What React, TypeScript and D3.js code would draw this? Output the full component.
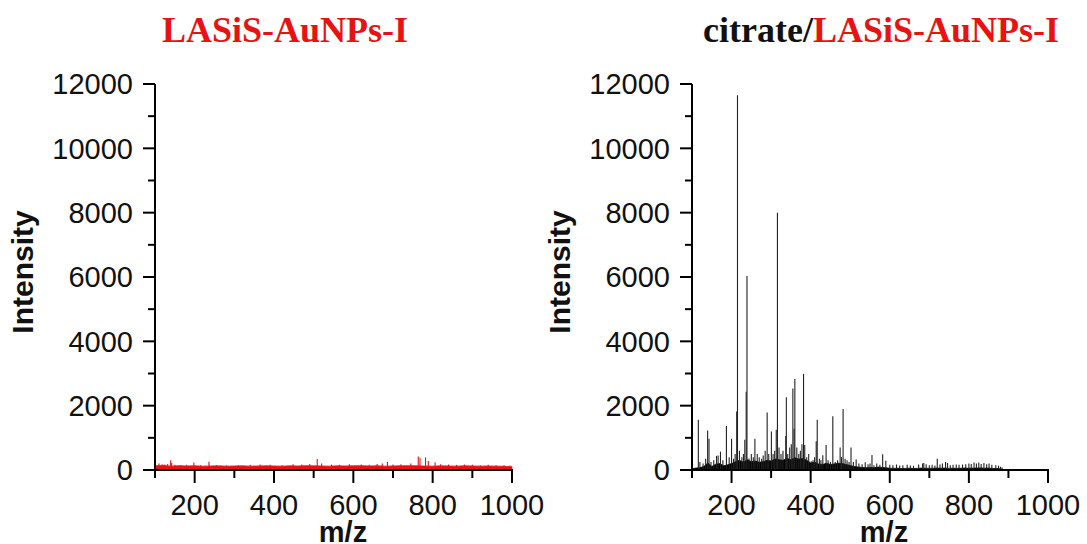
import React from "react";
import * as d3 from "d3";

// ---------- data ----------
const yTicks = [0, 2000, 4000, 6000, 8000, 10000, 12000];
const yMinorTicks = [1000, 3000, 5000, 7000, 9000, 11000];
const xTicks = [200, 400, 600, 800, 1000];
const xMinorTicks = [100, 300, 500, 700, 900];

const leftTitle = "LASiS-AuNPs-I";
const rightTitlePrefix = "citrate/";
const rightTitleSuffix = "LASiS-AuNPs-I";

// baseline (noise floor) of LASiS-AuNPs-I, sampled from m/z 100 in steps of 20
const lasisBaselineStart = 100;
const lasisBaselineStep = 20;
const lasisBaseline = [
  130, 140, 120, 135, 125, 130, 120, 125, 130, 120, 125, 130, 120, 125, 130, 125,
  120, 130, 125, 135, 130, 125, 120, 130, 125, 130, 135, 125, 130, 120, 125, 130,
  135, 130, 125, 120, 130, 125, 120, 130, 125, 120, 125, 120, 115, 100,
];

// peaks of LASiS-AuNPs-I: [m/z, intensity]
const lasisPeaks: [number, number][] = [
  [110, 200], [118, 180], [125, 170], [132, 190], [139.5, 300], [142, 220], [150, 160],
  [165, 150], [180, 160], [198, 230], [215, 150], [236, 260], [255, 150], [280, 140],
  [310, 150], [340, 160], [365, 170], [390, 160], [420, 150], [448, 180], [470, 170],
  [490, 190], [509, 340], [520, 200], [545, 170], [565, 160], [590, 180], [620, 170],
  [640, 160], [660, 190], [673, 200], [686, 250], [700, 170], [720, 180], [745, 200],
  [763.7, 420], [768, 370], [782, 390], [789, 280], [806, 240], [820, 180], [840, 170],
  [860, 160], [880, 170], [900, 160], [920, 150], [940, 160], [960, 150], [980, 150],
  [995, 140],
];

// baseline (noise floor) of citrate/LASiS-AuNPs-I, sampled from m/z 100 in steps of 10
const citrateBaselineStart = 100;
const citrateBaselineStep = 10;
const citrateBaseline = [
  40, 60, 70, 110, 220, 110, 180, 200, 130, 160,
  200, 260, 300, 240, 320, 260, 280, 240, 260, 300,
  280, 340, 320, 300, 360, 320, 380, 340, 360, 300,
  220, 240, 190, 170, 210, 170, 190, 210, 200, 170,
  140, 110, 90, 80, 70, 80, 70, 90, 80, 70,
  55, 50, 55, 45, 50, 55, 45, 50, 60, 55,
  50, 55, 60, 55, 60, 50, 55, 50, 55, 60,
  55, 60, 60, 65, 55, 60, 50, 45, 35, 0,
];

// peaks of citrate/LASiS-AuNPs-I: [m/z, intensity]
const citratePeaks: [number, number][] = [
  [116, 1560], [120, 250], [128, 200], [134.5, 350], [139.5, 1230], [143, 970], [148, 250],
  [155, 300], [162, 440], [166, 450], [172, 570], [178, 300], [187, 1370], [194, 400],
  [200, 970], [205, 350], [209, 500], [213, 1820], [215, 11650], [220, 600], [226, 400],
  [230, 500], [233.5, 940], [237, 2430], [239, 6030], [244, 360], [250, 500], [255, 400],
  [259, 970], [265, 500], [270, 400], [276, 350], [280, 450], [285, 600], [290, 1790],
  [294, 500], [300.7, 1200], [305, 500], [309, 600], [313, 1250], [316, 8000], [320, 700],
  [325, 500], [330, 600], [337, 1060], [338.5, 2260], [342, 500], [347, 700], [351, 800],
  [355, 2530], [358, 1280], [360, 2830], [365, 700], [370, 500], [374, 600], [378, 800],
  [382, 2990], [385, 780], [390, 400], [395, 500], [401.5, 270], [406, 300], [410, 400],
  [414, 890], [416.6, 1560], [422, 350], [426, 300], [430.7, 460], [439, 780], [444, 300],
  [450, 250], [456, 1670], [462, 250], [468, 300], [474.5, 700], [478, 400], [482, 1900],
  [487, 350], [492, 300], [497, 250], [502, 700], [508, 250], [515, 330], [522, 200],
  [530, 180], [538, 240], [545, 180], [550, 200], [555, 470], [560, 150], [567, 200],
  [575, 160], [582, 490], [590, 290], [600, 160], [608, 150], [617, 170], [625, 140],
  [633, 150], [644, 160], [652, 140], [660, 130], [673, 170], [683, 200], [686, 220],
  [692, 180], [700, 150], [707, 160], [714, 140], [720, 350], [727, 170], [733, 200],
  [741, 250], [746, 220], [753, 150], [760, 160], [768, 170], [775, 160], [784, 170],
  [792, 180], [800, 200], [806, 190], [813, 230], [819, 200], [825, 230], [831, 190],
  [838, 220], [845, 180], [851, 200], [858, 160], [868, 150], [875, 130], [880, 100],
  [884, 80],
];

// ---------- layout ----------
const W = 1087;
const H = 544;
const Y_TOP = 84;
const Y_BOTTOM = 470;
const SANS = "'Liberation Sans', Arial, sans-serif";
const SERIF = "'Liberation Serif', 'Times New Roman', serif";
const RED = "#e81212";

type PanelProps = {
  x0: number;
  x1: number;
  baseline: number[];
  baseStart: number;
  baseStep: number;
  peaks: [number, number][];
  color: string;
  peakColor: string;
  mzCenter: number;
};

function Panel({ x0, x1, baseline, baseStart, baseStep, peaks, color, peakColor, mzCenter }: PanelProps) {
  const x = d3.scaleLinear().domain([100, 1000]).range([x0, x1]);
  const y = d3.scaleLinear().domain([0, 12000]).range([Y_BOTTOM, Y_TOP]);
  const basePts: [number, number][] = baseline.map((v, i) => [baseStart + i * baseStep, v]);
  const area = d3
    .area<[number, number]>()
    .x((d) => x(d[0]))
    .y0(y(0))
    .y1((d) => y(d[1]))
    .curve(d3.curveLinear);
  const fs = 29;
  return (
    <g>
      <path d={area(basePts) || ""} fill={color} stroke={color} strokeWidth={0.8} />
      {peaks.map(([mz, v], i) => (
        <line
          key={i}
          x1={x(mz)}
          x2={x(mz)}
          y1={y(0)}
          y2={y(v)}
          stroke={peakColor}
          strokeWidth={1.1}
        />
      ))}
      {/* axes */}
      <line x1={x0} x2={x0} y1={Y_BOTTOM + 1} y2={Y_TOP} stroke="#000" strokeWidth={2} />
      <line x1={x0 - 1} x2={x1 + 1} y1={Y_BOTTOM} y2={Y_BOTTOM} stroke="#000" strokeWidth={2} />
      {yTicks.map((t) => (
        <g key={"y" + t}>
          <line x1={x0 - 12} x2={x0} y1={y(t)} y2={y(t)} stroke="#000" strokeWidth={2} />
          <text
            x={x0 - 22}
            y={y(t)}
            dy="0.36em"
            textAnchor="end"
            fontFamily={SANS}
            fontSize={fs}
            fill="#111"
          >
            {t}
          </text>
        </g>
      ))}
      {yMinorTicks.map((t) => (
        <line key={"ym" + t} x1={x0 - 7} x2={x0} y1={y(t)} y2={y(t)} stroke="#000" strokeWidth={2} />
      ))}
      {xTicks.map((t) => (
        <g key={"x" + t}>
          <line x1={x(t)} x2={x(t)} y1={Y_BOTTOM} y2={Y_BOTTOM + 13} stroke="#000" strokeWidth={2} />
          <text
            x={x(t)}
            y={515}
            textAnchor="middle"
            fontFamily={SANS}
            fontSize={fs}
            fill="#111"
          >
            {t}
          </text>
        </g>
      ))}
      {xMinorTicks.map((t) => (
        <line key={"xm" + t} x1={x(t)} x2={x(t)} y1={Y_BOTTOM} y2={Y_BOTTOM + 8} stroke="#000" strokeWidth={2} />
      ))}
      <text
        x={mzCenter}
        y={542}
        textAnchor="middle"
        fontFamily={SANS}
        fontWeight="bold"
        fontSize={29}
        fill="#111"
      >
        m/z
      </text>
      <text
        transform={`translate(${x0 - 122},${272}) rotate(-90)`}
        textAnchor="middle"
        fontFamily={SANS}
        fontWeight="bold"
        fontSize={30}
        fill="#111"
      >
        Intensity
      </text>
    </g>
  );
}

export default function App() {
  return (
    <svg
      width={W}
      height={H}
      style={{ position: "absolute", left: 0, top: 0, background: "#fff" }}
    >
      <rect width={W} height={H} fill="#fff" />
      <text
        x={285}
        y={42}
        textAnchor="middle"
        fontFamily={SERIF}
        fontWeight="bold"
        fontSize={36}
        fill={RED}
      >
        {leftTitle}
      </text>
      <text
        x={881}
        y={42}
        textAnchor="middle"
        fontFamily={SERIF}
        fontWeight="bold"
        fontSize={36}
      >
        <tspan fill="#111">{rightTitlePrefix}</tspan>
        <tspan fill={RED}>{rightTitleSuffix}</tspan>
      </text>
      <Panel
        x0={155}
        x1={512}
        baseline={lasisBaseline}
        baseStart={lasisBaselineStart}
        baseStep={lasisBaselineStep}
        peaks={lasisPeaks}
        color={RED}
        peakColor={RED}
        mzCenter={343}
      />
      <Panel
        x0={692}
        x1={1048}
        baseline={citrateBaseline}
        baseStart={citrateBaselineStart}
        baseStep={citrateBaselineStep}
        peaks={citratePeaks}
        color="#000"
        peakColor="#222"
        mzCenter={884}
      />
    </svg>
  );
}
